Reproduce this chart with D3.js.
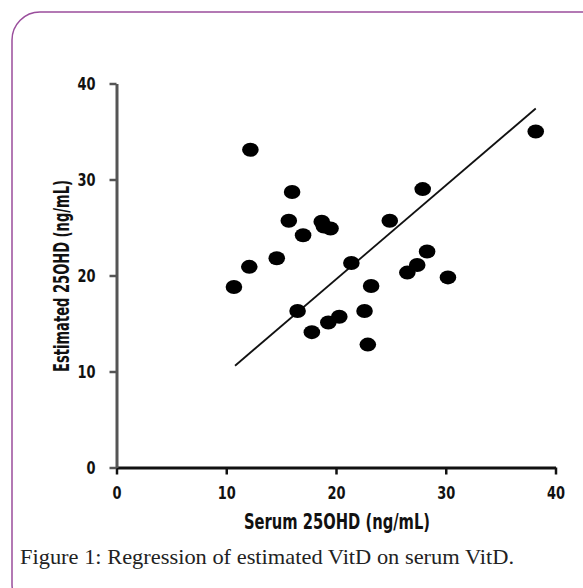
<!DOCTYPE html>
<html>
<head>
<meta charset="utf-8">
<script src="https://cdn.jsdelivr.net/npm/d3@7"></script>
<style>
  body { margin: 0; background: #fff; }
  .lbl { font-family: "Liberation Sans Narrow", "DejaVu Sans Condensed", "Arial Narrow", sans-serif; font-stretch: condensed; font-weight: bold; fill: #111; }
</style>
</head>
<body>
<svg id="chart" width="583" height="588"></svg>
<script>
// serum 25OHD (x) vs estimated 25OHD (y)
const serum = [10.7, 12.1, 12.2, 14.6, 16.0, 15.7, 17.0, 18.7, 18.9, 19.5, 16.5, 17.8, 19.3, 20.3, 21.4,
  24.9, 27.9, 38.2, 28.3, 27.4, 26.5, 30.2, 23.2, 22.6, 22.9];
const estimated = [18.8, 20.9, 33.1, 21.8, 28.7, 25.7, 24.2, 25.6, 25.1, 24.9, 16.3, 14.1, 15.1, 15.7, 21.3,
  25.7, 29.0, 35.0, 22.5, 21.1, 20.3, 19.8, 18.9, 16.3, 12.8];

// fitted line end points
const lineX = [10.8, 38.2];
const lineY = [10.6, 37.4];

const xTicks = [0, 10, 20, 30, 40];
const yTicks = [0, 10, 20, 30, 40];

const svg = d3.select('#chart');

// squeeze a text to look like the narrow font of the original
function narrow(sel, k) {
  sel.each(function () {
    const w = this.getComputedTextLength();
    d3.select(this).attr('textLength', w * k).attr('lengthAdjust', 'spacingAndGlyphs');
  });
}

// frame round the figure
svg.append('rect')
  .attr('x', 12).attr('y', 12)
  .attr('width', 600).attr('height', 600)
  .attr('rx', 28).attr('ry', 28)
  .attr('fill', 'none')
  .attr('stroke', '#9a4e9c')
  .attr('stroke-width', 1.5);

const x = d3.scaleLinear().domain([0, 40]).range([116.5, 555.5]);
const y = d3.scaleLinear().domain([0, 40]).range([467.5, 83.5]);

// axes
const xAxis = svg.append('g')
  .attr('transform', `translate(0, ${y(0)})`)
  .call(d3.axisBottom(x).tickValues(xTicks).tickSize(7).tickSizeOuter(0).tickPadding(12));
xAxis.select('.domain').attr('stroke', '#111').attr('stroke-width', 3);
xAxis.selectAll('.tick line').attr('stroke', '#111').attr('stroke-width', 2.5);
xAxis.selectAll('.tick text').attr('class', 'lbl').style('font-size', '18px').call(narrow, 0.8);

const yAxis = svg.append('g')
  .attr('transform', `translate(${x(0)}, 0)`)
  .call(d3.axisLeft(y).tickValues(yTicks).tickSize(7).tickSizeOuter(0).tickPadding(14));
yAxis.select('.domain').attr('stroke', '#555').attr('stroke-width', 3);
yAxis.selectAll('.tick line').attr('stroke', '#555').attr('stroke-width', 2.5);
yAxis.selectAll('.tick text').attr('class', 'lbl').style('font-size', '18px').call(narrow, 0.8);

// regression line
svg.append('line')
  .attr('x1', x(lineX[0])).attr('y1', y(lineY[0]))
  .attr('x2', x(lineX[1])).attr('y2', y(lineY[1]))
  .attr('stroke', '#111')
  .attr('stroke-width', 1.8);

// points
svg.append('g')
  .selectAll('ellipse')
  .data(serum.map((s, i) => ({ s, e: estimated[i] })))
  .enter()
  .append('ellipse')
  .attr('cx', d => x(d.s))
  .attr('cy', d => y(d.e))
  .attr('rx', 8.3)
  .attr('ry', 7)
  .attr('fill', '#000');

// axis titles
svg.append('text')
  .attr('class', 'lbl')
  .attr('x', 337).attr('y', 529)
  .attr('text-anchor', 'middle')
  .style('font-size', '21px')
  .attr('textLength', 186)
  .attr('lengthAdjust', 'spacingAndGlyphs')
  .text('Serum 25OHD (ng/mL)');

svg.append('text')
  .attr('class', 'lbl')
  .attr('transform', 'translate(69, 276) rotate(-90)')
  .attr('text-anchor', 'middle')
  .style('font-size', '21px')
  .attr('textLength', 192)
  .attr('lengthAdjust', 'spacingAndGlyphs')
  .text('Estimated 25OHD (ng/mL)');

// caption
svg.append('text')
  .attr('x', 20).attr('y', 564)
  .style('font-family', '"Liberation Serif", "DejaVu Serif", serif')
  .style('font-size', '21px')
  .style('fill', '#222')
  .attr('textLength', 494)
  .attr('lengthAdjust', 'spacingAndGlyphs')
  .text('Figure 1: Regression of estimated VitD on serum VitD.');
</script>
</body>
</html>
